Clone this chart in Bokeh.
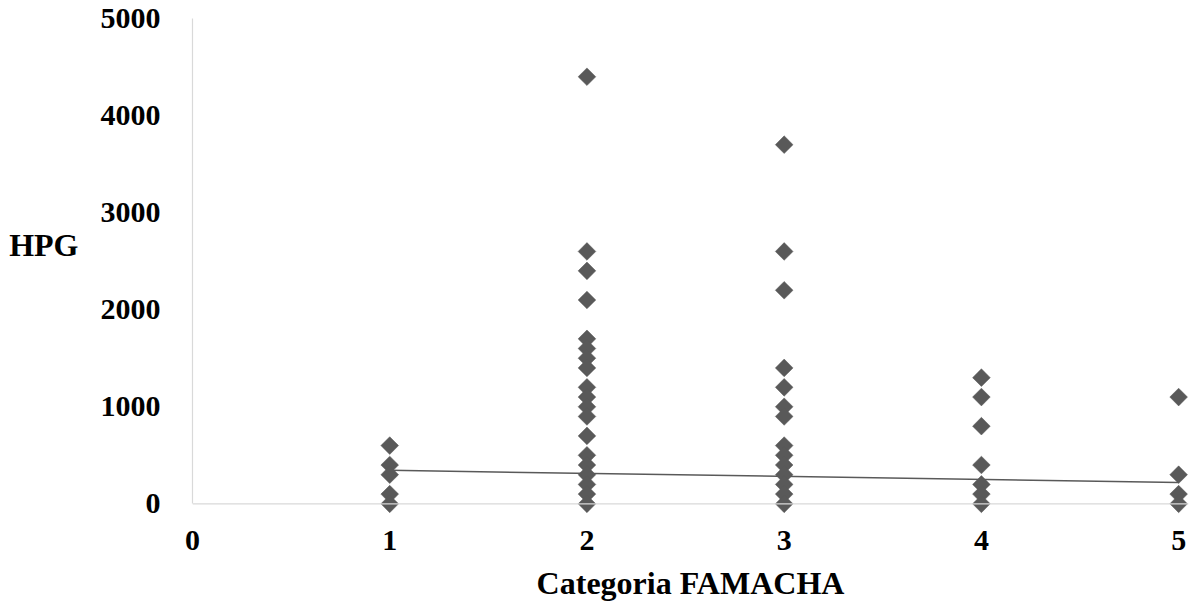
import math
from bokeh.plotting import figure
from bokeh.models import Range1d, FixedTicker, Span
from bokeh.embed import file_html
from bokeh.resources import INLINE

# Data
famacha = [1]*5 + [2]*19 + [3]*14 + [4]*7 + [5]*4
hpg = [600, 400, 300, 100, 0,
       4400, 2600, 2400, 2100, 1700, 1600, 1500, 1400, 1200, 1100, 1000, 900, 700, 500, 400, 300, 200, 100, 0,
       3700, 2600, 2200, 1400, 1200, 1000, 900, 600, 500, 400, 300, 200, 100, 0,
       1300, 1100, 800, 400, 200, 100, 0,
       1100, 300, 100, 0]
trend_x = [1, 5]
trend_y = [345, 220]
x_ticks = [0, 1, 2, 3, 4, 5]
y_ticks = [0, 1000, 2000, 3000, 4000, 5000]

FONT = "Liberation Serif"
GRAY = "#595959"
AXIS = "#d9d9d9"

p = figure(width=1193, height=603, output_backend="svg", toolbar_location=None,
           x_range=Range1d(0, 5.05), y_range=Range1d(-110, 5000),
           min_border_left=192, min_border_right=5, min_border_top=18, min_border_bottom=89)
p.outline_line_color = None
p.xgrid.visible = False
p.ygrid.visible = False

p.add_layout(Span(location=0, dimension="width", line_color=AXIS, line_width=1.2))
p.line(trend_x, trend_y, line_color=GRAY, line_width=1.5)
p.scatter(famacha, hpg, marker="square", angle=math.pi/4, size=12.5,
          fill_color=GRAY, line_color=GRAY, line_width=0.5)

for ax in (p.xaxis, p.yaxis):
    ax.axis_line_color = AXIS
    ax.axis_line_width = 1.2
    ax.major_tick_line_color = None
    ax.minor_tick_line_color = None
    ax.major_label_text_font = FONT
    ax.major_label_text_font_style = "bold"
    ax.major_label_text_font_size = "30px"
    ax.major_label_text_color = "black"
    ax.axis_label_text_font = FONT
    ax.axis_label_text_font_style = "bold"
    ax.axis_label_text_font_size = "32px"
    ax.axis_label_text_color = "black"

p.xaxis.axis_line_color = None
p.yaxis.bounds = (0, 5000)
p.xaxis.ticker = FixedTicker(ticks=x_ticks)
p.yaxis.ticker = FixedTicker(ticks=y_ticks)
p.xaxis.axis_label = "Categoria FAMACHA"
p.xaxis.major_label_standoff = 10
p.yaxis.major_label_standoff = 26
p.xaxis.axis_label_standoff = 12
p.yaxis.axis_label = "HPG\n "
p.yaxis.axis_label_orientation = "horizontal"
p.yaxis.axis_label_standoff = 19

open("out.html", "w").write(file_html(p, INLINE))
